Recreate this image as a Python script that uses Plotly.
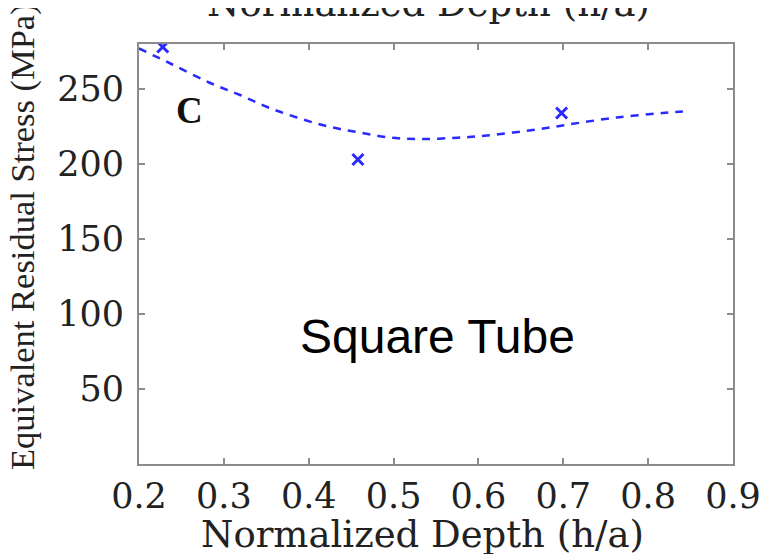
import plotly.graph_objects as go

# measured data points (x marks)
depth_pts = [0.228, 0.458, 0.698]
stress_pts = [278, 203, 234]

# dashed fit curve
curve_x = [0.2, 0.237, 0.284, 0.319, 0.351, 0.386, 0.423, 0.46, 0.498, 0.535, 0.575, 0.61, 0.669, 0.708, 0.763, 0.817, 0.841]
curve_y = [277, 267, 254, 246, 238, 231, 225, 221, 217.5, 216.7, 217.5, 219, 223, 226.5, 231, 234, 235]

x_ticks = [0.2, 0.3, 0.4, 0.5, 0.6, 0.7, 0.8, 0.9]
x_tick_labels = ["0.2", "0.3", "0.4", "0.5", "0.6", "0.7", "0.8", "0.9"]
y_ticks = [50, 100, 150, 200, 250]
y_tick_labels = ["50", "100", "150", "200", "250"]

serif = "Liberation Serif, Times New Roman, serif"
wide_serif = "DejaVu Serif, serif"
blue = "#2a2aff"
axis_col = "#8c8c8c"
txt = "#222222"

fig = go.Figure()
fig.add_trace(go.Scatter(
    x=curve_x, y=curve_y, mode="lines", line=dict(color=blue, width=2.5, dash="8px,7px", shape="spline"),
    hoverinfo="skip", showlegend=False))
fig.add_trace(go.Scatter(
    x=depth_pts, y=stress_pts, mode="markers",
    marker=dict(symbol="x-thin", size=11, line=dict(color=blue, width=3), color=blue),
    showlegend=False))

fig.update_layout(
    width=773, height=554,
    margin=dict(l=131, r=48, t=36, b=98),
    paper_bgcolor="white", plot_bgcolor="white",
    font=dict(family=serif, color=txt),
    xaxis=dict(range=[0.2, 0.9], tickvals=x_ticks, ticktext=x_tick_labels, automargin=False,
               ticks="inside", ticklen=6, tickcolor=axis_col, tickwidth=2,
               showline=True, linecolor=axis_col, linewidth=2, mirror="ticks",
               showgrid=False, zeroline=False,
               tickfont=dict(size=35, family=wide_serif, color=txt)),
    yaxis=dict(range=[0, 280], tickvals=y_ticks, ticktext=y_tick_labels, automargin=False,
               ticks="inside", ticklen=6, tickcolor=axis_col, tickwidth=2,
               showline=True, linecolor=axis_col, linewidth=2, mirror="ticks",
               showgrid=False, zeroline=False, ticklabelstandoff=6,
               tickfont=dict(size=35, family=wide_serif, color=txt)),
    annotations=[
        dict(text="Normalized Depth (h/a)", xref="paper", yref="paper", x=0.5, y=1.0, xshift=-8, yshift=17,
             xanchor="center", yanchor="bottom", showarrow=False, font=dict(size=37, family=wide_serif, color=txt)),
        dict(text="Normalized Depth (h/a)", xref="paper", yref="paper", x=0.5, y=0.0, xshift=-14, yshift=-70,
             xanchor="center", yanchor="middle", showarrow=False, font=dict(size=37, family=wide_serif, color=txt)),
        dict(text="Equivalent Residual Stress (MPa)", xref="paper", yref="paper", x=0.0, y=0.5, xshift=-117, yshift=17,
             xanchor="center", yanchor="middle", textangle=-90, showarrow=False,
             font=dict(size=34.5, family=serif, color=txt)),
        dict(text="<b>C</b>", xref="x", yref="y", x=0.26, y=236, showarrow=False,
             font=dict(size=37, family=serif, color="#111111")),
        dict(text="Square Tube", xref="x", yref="y", x=0.552, y=85, showarrow=False,
             font=dict(size=48, family="Liberation Sans, Arial, sans-serif", color="black")),
    ],
)

fig.write_html("out.html")
